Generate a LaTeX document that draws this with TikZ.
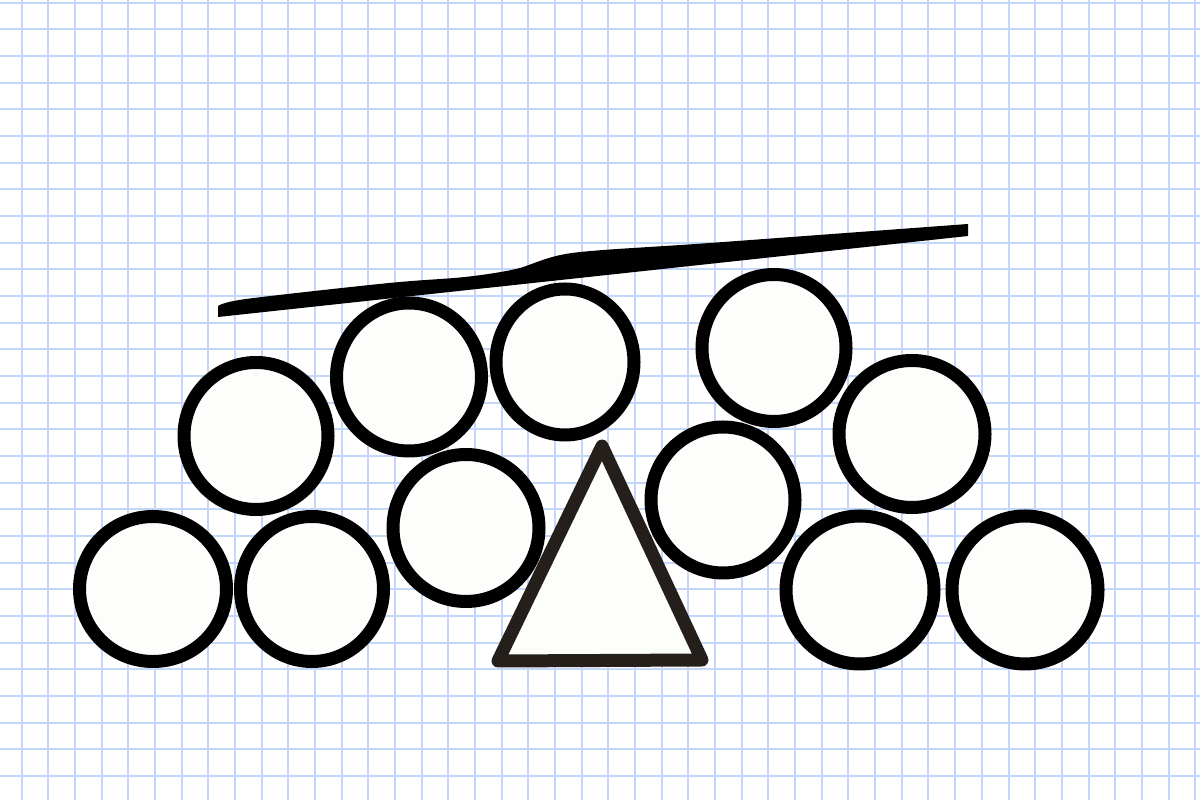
\documentclass[tikz,border=0pt]{standalone}
\usetikzlibrary{positioning,shapes.geometric}
\definecolor{gridblue}{HTML}{C4D7F8}
\definecolor{ink}{HTML}{000000}
\definecolor{wedgeink}{HTML}{241F1B}
\definecolor{ballfill}{HTML}{FDFDFB}

\begin{document}
\begin{tikzpicture}[
  x=0.1mm, y=-0.1mm,
  gridline/.style={draw=gridblue, line width=0.2mm},
  ball/.style={ellipse, draw=ink, line width=1.3mm, fill=ballfill, inner sep=0pt},
  wedge/.style={draw=wedgeink, line width=1.3mm, fill=ballfill, line join=round},
  lever/.style={fill=ink},
]
\useasboundingbox (0,0) rectangle (1200,800);
\fill[white] (0,0) rectangle (1200,800);
% graph paper
\foreach \i in {0,...,44}
  \draw[gridline] ({21.7+26.67*\i},0) -- ++(0,800);
\foreach \j in {0,...,29}
  \draw[gridline] (0,{2.7+26.67*\j}) -- ++(1200,0);
% fulcrum
\draw[wedge] (602,446) -- (498,661) -- (702,660) -- cycle;
% balls
\node[ball, minimum width=14.7mm, minimum height=14.5mm] (b1) at (153,589) {};
\node[ball, minimum width=14.3mm, minimum height=14.5mm] (b2) at (312,589) {};
\node[ball, minimum width=14.6mm, minimum height=14.7mm] (b3) at (466,528) {};
\node[ball, minimum width=14.4mm, minimum height=14.7mm] (b4) at (256,436) {};
\node[ball, minimum width=14.5mm, minimum height=14.8mm] (b5) at (409,377) {};
\node[ball, minimum width=13.8mm, minimum height=14.6mm] (b6) at (565,362) {};
\node[ball, minimum width=14.4mm, minimum height=14.7mm] (b7) at (774,348) {};
\node[ball, minimum width=14.6mm, minimum height=14.7mm] (b8) at (912,434) {};
\node[ball, minimum width=14.4mm, minimum height=14.6mm] (b9) at (723,500) {};
\node[ball, minimum width=14.8mm, minimum height=14.8mm] (b10) at (860,590) {};
\node[ball, minimum width=14.6mm, minimum height=14.8mm] (b11) at (1025,590) {};
% plank
\fill[lever] (218,317) -- plot[smooth] coordinates {(218,306) (246,299) (389,283) (465,277) (516,269) (572,253) (710,243) (968,224)} -- (968,236) -- cycle;
\end{tikzpicture}
\end{document}
